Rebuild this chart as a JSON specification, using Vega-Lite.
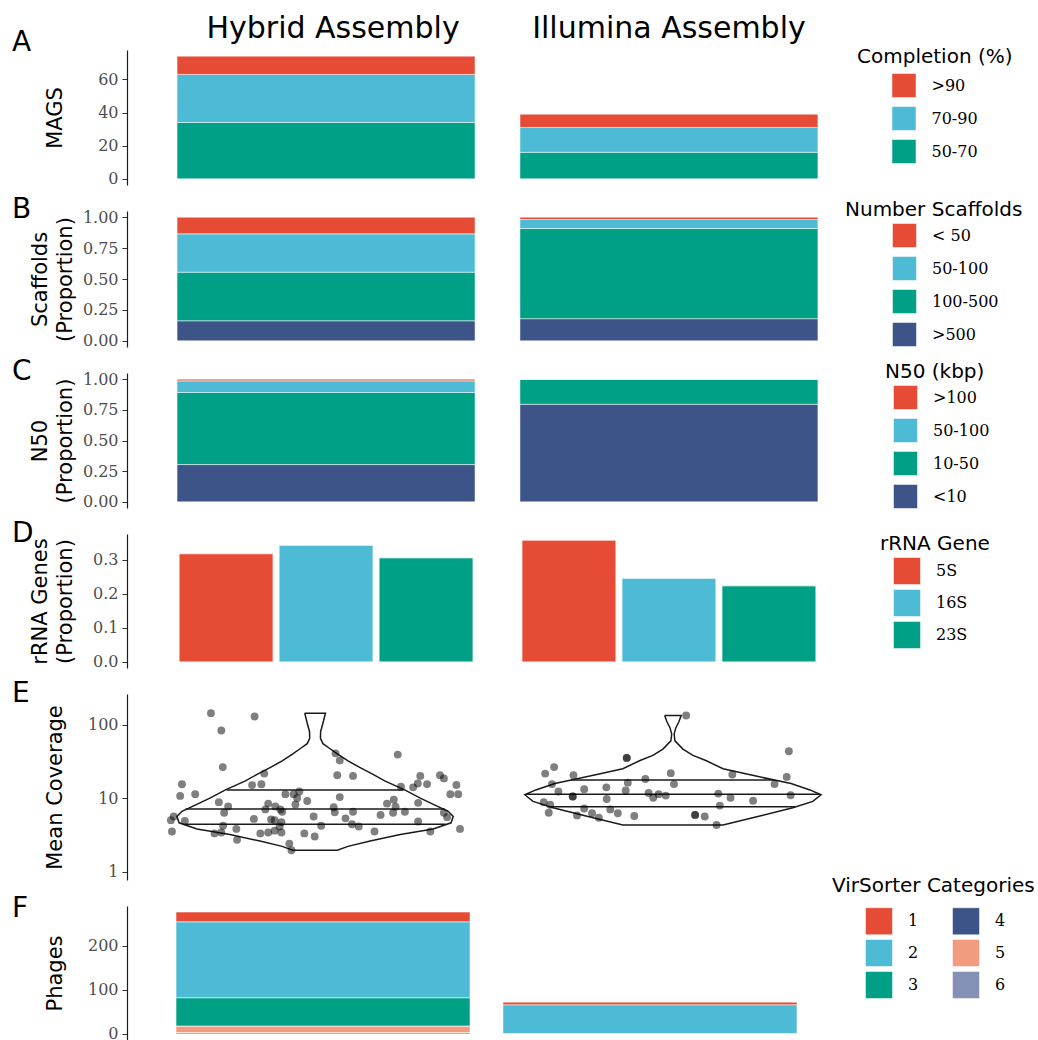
{
"$schema": "https://vega.github.io/schema/vega-lite/v6.json",
"padding": {"left": 12, "top": 13, "right": 2, "bottom": 0},
"background": "white",
"bounds": "flush",
"spacing": 26,
"datasets": {
"mags": [
{"assembly":"Hybrid Assembly","cat":"50-70","k":1,"n":34},
{"assembly":"Hybrid Assembly","cat":"70-90","k":2,"n":29},
{"assembly":"Hybrid Assembly","cat":">90","k":3,"n":11},
{"assembly":"Illumina Assembly","cat":"50-70","k":1,"n":16},
{"assembly":"Illumina Assembly","cat":"70-90","k":2,"n":15},
{"assembly":"Illumina Assembly","cat":">90","k":3,"n":8}
],
"scaf": [
{"assembly":"Hybrid Assembly","cat":">500","k":1,"p":0.162},
{"assembly":"Hybrid Assembly","cat":"100-500","k":2,"p":0.393},
{"assembly":"Hybrid Assembly","cat":"50-100","k":3,"p":0.310},
{"assembly":"Hybrid Assembly","cat":"< 50","k":4,"p":0.135},
{"assembly":"Illumina Assembly","cat":">500","k":1,"p":0.179},
{"assembly":"Illumina Assembly","cat":"100-500","k":2,"p":0.729},
{"assembly":"Illumina Assembly","cat":"50-100","k":3,"p":0.073},
{"assembly":"Illumina Assembly","cat":"< 50","k":4,"p":0.019}
],
"n50": [
{"assembly":"Hybrid Assembly","cat":"<10","k":1,"p":0.304},
{"assembly":"Hybrid Assembly","cat":"10-50","k":2,"p":0.587},
{"assembly":"Hybrid Assembly","cat":"50-100","k":3,"p":0.095},
{"assembly":"Hybrid Assembly","cat":">100","k":4,"p":0.014},
{"assembly":"Illumina Assembly","cat":"<10","k":1,"p":0.795},
{"assembly":"Illumina Assembly","cat":"10-50","k":2,"p":0.205},
{"assembly":"Illumina Assembly","cat":"50-100","k":3,"p":0},
{"assembly":"Illumina Assembly","cat":">100","k":4,"p":0}
],
"rrna": [
{"assembly":"Hybrid Assembly","gene":"5S","p":0.317},
{"assembly":"Hybrid Assembly","gene":"16S","p":0.342},
{"assembly":"Hybrid Assembly","gene":"23S","p":0.305},
{"assembly":"Illumina Assembly","gene":"5S","p":0.357},
{"assembly":"Illumina Assembly","gene":"16S","p":0.245},
{"assembly":"Illumina Assembly","gene":"23S","p":0.223}
],
"phage": [
{"assembly":"Hybrid Assembly","cat":"6","k":1,"n":3},
{"assembly":"Hybrid Assembly","cat":"5","k":2,"n":15},
{"assembly":"Hybrid Assembly","cat":"4","k":3,"n":0},
{"assembly":"Hybrid Assembly","cat":"3","k":4,"n":64},
{"assembly":"Hybrid Assembly","cat":"2","k":5,"n":172},
{"assembly":"Hybrid Assembly","cat":"1","k":6,"n":22},
{"assembly":"Illumina Assembly","cat":"6","k":1,"n":1},
{"assembly":"Illumina Assembly","cat":"5","k":2,"n":0},
{"assembly":"Illumina Assembly","cat":"4","k":3,"n":0},
{"assembly":"Illumina Assembly","cat":"3","k":4,"n":0},
{"assembly":"Illumina Assembly","cat":"2","k":5,"n":65},
{"assembly":"Illumina Assembly","cat":"1","k":6,"n":6}
],
"violin": [
{"assembly":"Hybrid Assembly","k":1,"cov":143,"off":-0.029},
{"assembly":"Hybrid Assembly","k":2,"cov":120,"off":-0.025},
{"assembly":"Hybrid Assembly","k":3,"cov":100,"off":-0.021},
{"assembly":"Hybrid Assembly","k":4,"cov":80,"off":-0.0155},
{"assembly":"Hybrid Assembly","k":5,"cov":65,"off":-0.015},
{"assembly":"Hybrid Assembly","k":6,"cov":55,"off":-0.022},
{"assembly":"Hybrid Assembly","k":7,"cov":48,"off":-0.039},
{"assembly":"Hybrid Assembly","k":8,"cov":40,"off":-0.062},
{"assembly":"Hybrid Assembly","k":9,"cov":32,"off":-0.092},
{"assembly":"Hybrid Assembly","k":10,"cov":26,"off":-0.126},
{"assembly":"Hybrid Assembly","k":11,"cov":21,"off":-0.162},
{"assembly":"Hybrid Assembly","k":12,"cov":17,"off":-0.196},
{"assembly":"Hybrid Assembly","k":13,"cov":13,"off":-0.249},
{"assembly":"Hybrid Assembly","k":14,"cov":10,"off":-0.294},
{"assembly":"Hybrid Assembly","k":15,"cov":8,"off":-0.335},
{"assembly":"Hybrid Assembly","k":16,"cov":6.6,"off":-0.372},
{"assembly":"Hybrid Assembly","k":17,"cov":5.6,"off":-0.386},
{"assembly":"Hybrid Assembly","k":18,"cov":4.6,"off":-0.38},
{"assembly":"Hybrid Assembly","k":19,"cov":3.8,"off":-0.33},
{"assembly":"Hybrid Assembly","k":20,"cov":3.2,"off":-0.238},
{"assembly":"Hybrid Assembly","k":21,"cov":2.6,"off":-0.154},
{"assembly":"Hybrid Assembly","k":22,"cov":2.2,"off":-0.092},
{"assembly":"Hybrid Assembly","k":23,"cov":1.95,"off":-0.062},
{"assembly":"Hybrid Assembly","k":24,"cov":1.95,"off":0.062},
{"assembly":"Hybrid Assembly","k":25,"cov":2.2,"off":0.092},
{"assembly":"Hybrid Assembly","k":26,"cov":2.6,"off":0.154},
{"assembly":"Hybrid Assembly","k":27,"cov":3.2,"off":0.238},
{"assembly":"Hybrid Assembly","k":28,"cov":3.8,"off":0.33},
{"assembly":"Hybrid Assembly","k":29,"cov":4.6,"off":0.38},
{"assembly":"Hybrid Assembly","k":30,"cov":5.6,"off":0.386},
{"assembly":"Hybrid Assembly","k":31,"cov":6.6,"off":0.372},
{"assembly":"Hybrid Assembly","k":32,"cov":8,"off":0.335},
{"assembly":"Hybrid Assembly","k":33,"cov":10,"off":0.294},
{"assembly":"Hybrid Assembly","k":34,"cov":13,"off":0.249},
{"assembly":"Hybrid Assembly","k":35,"cov":17,"off":0.196},
{"assembly":"Hybrid Assembly","k":36,"cov":21,"off":0.162},
{"assembly":"Hybrid Assembly","k":37,"cov":26,"off":0.126},
{"assembly":"Hybrid Assembly","k":38,"cov":32,"off":0.092},
{"assembly":"Hybrid Assembly","k":39,"cov":40,"off":0.062},
{"assembly":"Hybrid Assembly","k":40,"cov":48,"off":0.039},
{"assembly":"Hybrid Assembly","k":41,"cov":55,"off":0.022},
{"assembly":"Hybrid Assembly","k":42,"cov":65,"off":0.015},
{"assembly":"Hybrid Assembly","k":43,"cov":80,"off":0.0155},
{"assembly":"Hybrid Assembly","k":44,"cov":100,"off":0.021},
{"assembly":"Hybrid Assembly","k":45,"cov":120,"off":0.025},
{"assembly":"Hybrid Assembly","k":46,"cov":143,"off":0.029},
{"assembly":"Hybrid Assembly","k":47,"cov":143,"off":-0.029},
{"assembly":"Illumina Assembly","k":1,"cov":133,"off":-0.023},
{"assembly":"Illumina Assembly","k":2,"cov":110,"off":-0.017},
{"assembly":"Illumina Assembly","k":3,"cov":90,"off":-0.008},
{"assembly":"Illumina Assembly","k":4,"cov":74,"off":-0.0034},
{"assembly":"Illumina Assembly","k":5,"cov":60,"off":-0.0056},
{"assembly":"Illumina Assembly","k":6,"cov":46.4,"off":-0.028},
{"assembly":"Illumina Assembly","k":7,"cov":38,"off":-0.056},
{"assembly":"Illumina Assembly","k":8,"cov":32.4,"off":-0.092},
{"assembly":"Illumina Assembly","k":9,"cov":25.1,"off":-0.14},
{"assembly":"Illumina Assembly","k":10,"cov":19.9,"off":-0.232},
{"assembly":"Illumina Assembly","k":11,"cov":15.8,"off":-0.33},
{"assembly":"Illumina Assembly","k":12,"cov":12.9,"off":-0.383},
{"assembly":"Illumina Assembly","k":13,"cov":11.1,"off":-0.414},
{"assembly":"Illumina Assembly","k":14,"cov":9.0,"off":-0.391},
{"assembly":"Illumina Assembly","k":15,"cov":7.4,"off":-0.335},
{"assembly":"Illumina Assembly","k":16,"cov":5.7,"off":-0.243},
{"assembly":"Illumina Assembly","k":17,"cov":4.3,"off":-0.14},
{"assembly":"Illumina Assembly","k":18,"cov":4.3,"off":0.14},
{"assembly":"Illumina Assembly","k":19,"cov":5.7,"off":0.243},
{"assembly":"Illumina Assembly","k":20,"cov":7.4,"off":0.335},
{"assembly":"Illumina Assembly","k":21,"cov":9.0,"off":0.391},
{"assembly":"Illumina Assembly","k":22,"cov":11.1,"off":0.414},
{"assembly":"Illumina Assembly","k":23,"cov":12.9,"off":0.383},
{"assembly":"Illumina Assembly","k":24,"cov":15.8,"off":0.33},
{"assembly":"Illumina Assembly","k":25,"cov":19.9,"off":0.232},
{"assembly":"Illumina Assembly","k":26,"cov":25.1,"off":0.14},
{"assembly":"Illumina Assembly","k":27,"cov":32.4,"off":0.092},
{"assembly":"Illumina Assembly","k":28,"cov":38,"off":0.056},
{"assembly":"Illumina Assembly","k":29,"cov":46.4,"off":0.028},
{"assembly":"Illumina Assembly","k":30,"cov":60,"off":0.0056},
{"assembly":"Illumina Assembly","k":31,"cov":74,"off":0.0034},
{"assembly":"Illumina Assembly","k":32,"cov":90,"off":0.008},
{"assembly":"Illumina Assembly","k":33,"cov":110,"off":0.017},
{"assembly":"Illumina Assembly","k":34,"cov":133,"off":0.023},
{"assembly":"Illumina Assembly","k":35,"cov":133,"off":-0.023}
],
"quant": [
{"assembly":"Hybrid Assembly","q":"H75","cov":12.9,"off":-0.247},
{"assembly":"Hybrid Assembly","q":"H75","cov":12.9,"off":0.247},
{"assembly":"Hybrid Assembly","q":"H50","cov":7.1,"off":-0.362},
{"assembly":"Hybrid Assembly","q":"H50","cov":7.1,"off":0.362},
{"assembly":"Hybrid Assembly","q":"H25","cov":4.4,"off":-0.365},
{"assembly":"Hybrid Assembly","q":"H25","cov":4.4,"off":0.365},
{"assembly":"Illumina Assembly","q":"I75","cov":17.6,"off":-0.284},
{"assembly":"Illumina Assembly","q":"I75","cov":17.6,"off":0.284},
{"assembly":"Illumina Assembly","q":"I50","cov":11.3,"off":-0.41},
{"assembly":"Illumina Assembly","q":"I50","cov":11.3,"off":0.41},
{"assembly":"Illumina Assembly","q":"I25","cov":7.6,"off":-0.342},
{"assembly":"Illumina Assembly","q":"I25","cov":7.6,"off":0.342}
],
"pts": [
{"assembly":"Hybrid Assembly","cov":143,"jit":-0.291},
{"assembly":"Hybrid Assembly","cov":129,"jit":-0.169},
{"assembly":"Hybrid Assembly","cov":83,"jit":-0.262},
{"assembly":"Hybrid Assembly","cov":26.4,"jit":-0.258},
{"assembly":"Hybrid Assembly","cov":40.6,"jit":0.057},
{"assembly":"Hybrid Assembly","cov":32.4,"jit":0.069},
{"assembly":"Hybrid Assembly","cov":39,"jit":0.231},
{"assembly":"Hybrid Assembly","cov":21.5,"jit":-0.142},
{"assembly":"Hybrid Assembly","cov":20.5,"jit":0.062},
{"assembly":"Hybrid Assembly","cov":20.0,"jit":0.106},
{"assembly":"Hybrid Assembly","cov":20.0,"jit":0.294},
{"assembly":"Hybrid Assembly","cov":20.5,"jit":0.349},
{"assembly":"Hybrid Assembly","cov":18.5,"jit":0.36},
{"assembly":"Hybrid Assembly","cov":15.4,"jit":-0.372},
{"assembly":"Hybrid Assembly","cov":15.0,"jit":-0.176},
{"assembly":"Hybrid Assembly","cov":15.4,"jit":-0.150},
{"assembly":"Hybrid Assembly","cov":15.8,"jit":0.287},
{"assembly":"Hybrid Assembly","cov":15.5,"jit":0.313},
{"assembly":"Hybrid Assembly","cov":15.1,"jit":0.395},
{"assembly":"Hybrid Assembly","cov":14.3,"jit":0.240},
{"assembly":"Hybrid Assembly","cov":14.0,"jit":0.274},
{"assembly":"Hybrid Assembly","cov":11.3,"jit":-0.335},
{"assembly":"Hybrid Assembly","cov":10.7,"jit":-0.377},
{"assembly":"Hybrid Assembly","cov":11.3,"jit":-0.083},
{"assembly":"Hybrid Assembly","cov":11.3,"jit":-0.060},
{"assembly":"Hybrid Assembly","cov":12.3,"jit":-0.044},
{"assembly":"Hybrid Assembly","cov":10.0,"jit":-0.050},
{"assembly":"Hybrid Assembly","cov":10.3,"jit":0.069},
{"assembly":"Hybrid Assembly","cov":11.3,"jit":0.378},
{"assembly":"Hybrid Assembly","cov":11.3,"jit":0.400},
{"assembly":"Hybrid Assembly","cov":9.5,"jit":0.220},
{"assembly":"Hybrid Assembly","cov":9.1,"jit":-0.022},
{"assembly":"Hybrid Assembly","cov":8.8,"jit":-0.269},
{"assembly":"Hybrid Assembly","cov":8.4,"jit":-0.131},
{"assembly":"Hybrid Assembly","cov":8.2,"jit":-0.055},
{"assembly":"Hybrid Assembly","cov":8.4,"jit":0.201},
{"assembly":"Hybrid Assembly","cov":8.6,"jit":0.288},
{"assembly":"Hybrid Assembly","cov":7.7,"jit":-0.243},
{"assembly":"Hybrid Assembly","cov":7.7,"jit":-0.111},
{"assembly":"Hybrid Assembly","cov":7.6,"jit":0.225},
{"assembly":"Hybrid Assembly","cov":7.0,"jit":-0.139},
{"assembly":"Hybrid Assembly","cov":7.0,"jit":-0.097},
{"assembly":"Hybrid Assembly","cov":6.5,"jit":-0.092},
{"assembly":"Hybrid Assembly","cov":7.5,"jit":0.052},
{"assembly":"Hybrid Assembly","cov":6.3,"jit":-0.254},
{"assembly":"Hybrid Assembly","cov":6.4,"jit":0.055},
{"assembly":"Hybrid Assembly","cov":6.5,"jit":0.106},
{"assembly":"Hybrid Assembly","cov":6.3,"jit":0.218},
{"assembly":"Hybrid Assembly","cov":6.5,"jit":0.251},
{"assembly":"Hybrid Assembly","cov":6.3,"jit":0.360},
{"assembly":"Hybrid Assembly","cov":5.5,"jit":0.369},
{"assembly":"Hybrid Assembly","cov":5.6,"jit":-0.395},
{"assembly":"Hybrid Assembly","cov":5.6,"jit":-0.004},
{"assembly":"Hybrid Assembly","cov":5.3,"jit":0.085},
{"assembly":"Hybrid Assembly","cov":5.9,"jit":0.183},
{"assembly":"Hybrid Assembly","cov":5.0,"jit":-0.403},
{"assembly":"Hybrid Assembly","cov":4.9,"jit":-0.364},
{"assembly":"Hybrid Assembly","cov":5.2,"jit":-0.171},
{"assembly":"Hybrid Assembly","cov":5.1,"jit":-0.123},
{"assembly":"Hybrid Assembly","cov":5.0,"jit":-0.113},
{"assembly":"Hybrid Assembly","cov":4.7,"jit":-0.094},
{"assembly":"Hybrid Assembly","cov":4.8,"jit":0.288},
{"assembly":"Hybrid Assembly","cov":4.4,"jit":0.103},
{"assembly":"Hybrid Assembly","cov":4.2,"jit":-0.257},
{"assembly":"Hybrid Assembly","cov":4.1,"jit":-0.099},
{"assembly":"Hybrid Assembly","cov":4.2,"jit":0.017},
{"assembly":"Hybrid Assembly","cov":4.1,"jit":0.122},
{"assembly":"Hybrid Assembly","cov":3.8,"jit":-0.220},
{"assembly":"Hybrid Assembly","cov":3.8,"jit":0.405},
{"assembly":"Hybrid Assembly","cov":3.5,"jit":-0.400},
{"assembly":"Hybrid Assembly","cov":3.4,"jit":-0.262},
{"assembly":"Hybrid Assembly","cov":3.3,"jit":-0.281},
{"assembly":"Hybrid Assembly","cov":3.3,"jit":-0.153},
{"assembly":"Hybrid Assembly","cov":3.4,"jit":-0.131},
{"assembly":"Hybrid Assembly","cov":3.6,"jit":-0.113},
{"assembly":"Hybrid Assembly","cov":3.4,"jit":-0.094},
{"assembly":"Hybrid Assembly","cov":3.3,"jit":-0.030},
{"assembly":"Hybrid Assembly","cov":3.5,"jit":0.166},
{"assembly":"Hybrid Assembly","cov":3.5,"jit":0.322},
{"assembly":"Hybrid Assembly","cov":3.0,"jit":-0.001},
{"assembly":"Hybrid Assembly","cov":2.7,"jit":-0.218},
{"assembly":"Hybrid Assembly","cov":2.4,"jit":-0.072},
{"assembly":"Hybrid Assembly","cov":1.95,"jit":-0.066},
{"assembly":"Illumina Assembly","cov":133,"jit":0.037},
{"assembly":"Illumina Assembly","cov":43.3,"jit":0.324},
{"assembly":"Illumina Assembly","cov":35.2,"jit":-0.129},
{"assembly":"Illumina Assembly","cov":35.2,"jit":-0.129},
{"assembly":"Illumina Assembly","cov":21.5,"jit":-0.357},
{"assembly":"Illumina Assembly","cov":26.4,"jit":-0.332},
{"assembly":"Illumina Assembly","cov":20.5,"jit":-0.278},
{"assembly":"Illumina Assembly","cov":21.8,"jit":-0.006},
{"assembly":"Illumina Assembly","cov":20.9,"jit":0.166},
{"assembly":"Illumina Assembly","cov":19.4,"jit":0.318},
{"assembly":"Illumina Assembly","cov":15.5,"jit":-0.338},
{"assembly":"Illumina Assembly","cov":18.2,"jit":-0.077},
{"assembly":"Illumina Assembly","cov":16.2,"jit":-0.126},
{"assembly":"Illumina Assembly","cov":15.5,"jit":0.003},
{"assembly":"Illumina Assembly","cov":15.5,"jit":0.284},
{"assembly":"Illumina Assembly","cov":12.3,"jit":-0.320},
{"assembly":"Illumina Assembly","cov":13.2,"jit":-0.248},
{"assembly":"Illumina Assembly","cov":14.0,"jit":-0.186},
{"assembly":"Illumina Assembly","cov":12.7,"jit":-0.132},
{"assembly":"Illumina Assembly","cov":11.7,"jit":-0.068},
{"assembly":"Illumina Assembly","cov":11.3,"jit":-0.040},
{"assembly":"Illumina Assembly","cov":10.8,"jit":-0.020},
{"assembly":"Illumina Assembly","cov":10.1,"jit":-0.055},
{"assembly":"Illumina Assembly","cov":10.5,"jit":-0.280},
{"assembly":"Illumina Assembly","cov":10.5,"jit":-0.280},
{"assembly":"Illumina Assembly","cov":9.7,"jit":-0.185},
{"assembly":"Illumina Assembly","cov":11.5,"jit":0.127},
{"assembly":"Illumina Assembly","cov":10.1,"jit":0.161},
{"assembly":"Illumina Assembly","cov":9.2,"jit":0.224},
{"assembly":"Illumina Assembly","cov":10.9,"jit":0.329},
{"assembly":"Illumina Assembly","cov":8.8,"jit":-0.361},
{"assembly":"Illumina Assembly","cov":8.1,"jit":-0.343},
{"assembly":"Illumina Assembly","cov":6.3,"jit":-0.347},
{"assembly":"Illumina Assembly","cov":7.2,"jit":-0.248},
{"assembly":"Illumina Assembly","cov":7.0,"jit":-0.175},
{"assembly":"Illumina Assembly","cov":5.8,"jit":-0.268},
{"assembly":"Illumina Assembly","cov":6.2,"jit":-0.226},
{"assembly":"Illumina Assembly","cov":5.4,"jit":-0.207},
{"assembly":"Illumina Assembly","cov":6.2,"jit":-0.154},
{"assembly":"Illumina Assembly","cov":5.7,"jit":-0.108},
{"assembly":"Illumina Assembly","cov":7.9,"jit":0.131},
{"assembly":"Illumina Assembly","cov":5.9,"jit":0.062},
{"assembly":"Illumina Assembly","cov":5.9,"jit":0.062},
{"assembly":"Illumina Assembly","cov":5.6,"jit":0.089},
{"assembly":"Illumina Assembly","cov":4.3,"jit":0.122}
]
},
"vconcat": [
{
"width": 741, "height": 135,
"title": {"text": "A", "dy": 48},
"data": {"name": "mags"},
"mark": {"type": "bar", "stroke": "white", "strokeWidth": 0.5},
"encoding": {
"x": {"field": "assembly", "type": "nominal", "scale": {"domain": ["Hybrid Assembly","Illumina Assembly"], "paddingInner": 0.131, "paddingOuter": 0.146},
"axis": {"orient": "top", "title": null, "labelAngle": 0, "labelFont": "DejaVu Sans", "labelFontSize": 30, "labelColor": "black", "ticks": false, "tickSize": 0, "domain": false, "labelPadding": 7, "labelLimit": 0,
"labelOffset": {"condition": {"test": "datum.value == 'Hybrid Assembly'", "value": 7}, "value": 0}}},
"y": {"field": "n", "type": "quantitative", "stack": "zero", "scale": {"domain": [-3.7, 77.7], "nice": false},
"axis": {"values": [0,20,40,60], "format": "d", "title": "MAGS", "titleX": -61.6}},
"color": {"field": "cat", "type": "nominal", "scale": {"domain": [">90","70-90","50-70"], "range": ["#E64B35","#4DBBD5","#00A087"]},
"legend": {"title": "Completion (%)", "legendX": 730, "legendY": -3, "symbolOffset": 34.5, "symbolSize": 576, "rowPadding": 6, "titlePadding": 6}},
"order": {"field": "k", "type": "quantitative"}
}
},
{
"width": 741, "height": 136,
"title": {"text": "B", "dy": 28},
"data": {"name": "scaf"},
"mark": {"type": "bar", "stroke": "white", "strokeWidth": 0.5},
"encoding": {
"x": {"field": "assembly", "type": "nominal", "scale": {"domain": ["Hybrid Assembly","Illumina Assembly"], "paddingInner": 0.131, "paddingOuter": 0.146}, "axis": null},
"y": {"field": "p", "type": "quantitative", "stack": "zero", "scale": {"domain": [-0.05, 1.05], "nice": false},
"axis": {"values": [0,0.25,0.5,0.75,1], "format": ".2f", "title": ["Scaffolds","(Proportion)"], "titleX": -76.5, "titleLineHeight": 25}},
"color": {"field": "cat", "type": "nominal", "scale": {"domain": ["< 50","50-100","100-500",">500"], "range": ["#E64B35","#4DBBD5","#00A087","#3C5488"]},
"legend": {"title": "Number Scaffolds", "legendX": 718, "legendY": -11, "symbolOffset": 47, "symbolSize": 576, "rowPadding": 6, "titlePadding": 3}},
"order": {"field": "k", "type": "quantitative"}
}
},
{
"width": 741, "height": 135,
"title": {"text": "C", "dy": 28},
"data": {"name": "n50"},
"mark": {"type": "bar", "stroke": "white", "strokeWidth": 0.5},
"encoding": {
"x": {"field": "assembly", "type": "nominal", "scale": {"domain": ["Hybrid Assembly","Illumina Assembly"], "paddingInner": 0.131, "paddingOuter": 0.146}, "axis": null},
"y": {"field": "p", "type": "quantitative", "stack": "zero", "scale": {"domain": [-0.05, 1.05], "nice": false},
"axis": {"values": [0,0.25,0.5,0.75,1], "format": ".2f", "title": ["N50","(Proportion)"], "titleX": -76.5, "titleLineHeight": 25}},
"color": {"field": "cat", "type": "nominal", "scale": {"domain": [">100","50-100","10-50","<10"], "range": ["#E64B35","#4DBBD5","#00A087","#3C5488"]},
"legend": {"title": "N50 (kbp)", "legendX": 758, "legendY": -11, "symbolOffset": 8, "symbolSize": 576, "rowPadding": 6, "titlePadding": 3}},
"order": {"field": "k", "type": "quantitative"}
}
},
{
"width": 741, "height": 134,
"title": {"text": "D", "dy": 18},
"data": {"name": "rrna"},
"mark": {"type": "bar", "stroke": "white", "strokeWidth": 0.8},
"encoding": {
"x": {"field": "assembly", "type": "nominal", "scale": {"domain": ["Hybrid Assembly","Illumina Assembly"], "paddingInner": 0.131, "paddingOuter": 0.146}, "axis": null},
"xOffset": {"field": "gene", "type": "nominal", "scale": {"domain": ["5S","16S","23S"], "paddingInner": 0.06, "paddingOuter": 0.02}},
"y": {"field": "p", "type": "quantitative", "scale": {"domain": [-0.0179, 0.375], "nice": false},
"axis": {"values": [0,0.1,0.2,0.3], "format": ".1f", "title": ["rRNA Genes","(Proportion)"], "titleX": -76.5, "titleLineHeight": 25}},
"color": {"field": "gene", "type": "nominal", "scale": {"domain": ["5S","16S","23S"], "range": ["#E64B35","#4DBBD5","#00A087"]},
"legend": {"title": "rRNA Gene", "legendX": 753, "legendY": 0, "symbolOffset": 13, "symbolSize": 729, "rowPadding": 2, "titlePadding": 3}}
}
},
{
"width": 734, "height": 186,
"title": {"text": "E", "dy": 18},
"layer": [
{
"data": {"name": "violin"},
"mark": {"type": "line", "color": "#1a1a1a", "strokeWidth": 1.5},
"encoding": {
"x": {"field": "assembly", "type": "nominal", "scale": {"type": "band", "domain": ["Hybrid Assembly","Illumina Assembly"], "paddingInner": 0, "paddingOuter": 0.0256}, "axis": null},
"xOffset": {"field": "off", "type": "quantitative", "scale": {"domain": [-0.5, 0.5]}},
"y": {"field": "cov", "type": "quantitative", "scale": {"type": "log", "domain": [0.767, 260.6], "nice": false},
"axis": {"values": [1,10,100], "format": "d", "title": "Mean Coverage", "titleX": -61.6}},
"detail": {"field": "assembly"},
"order": {"field": "k", "type": "quantitative"}
}
},
{
"data": {"name": "quant"},
"mark": {"type": "line", "color": "#1a1a1a", "strokeWidth": 1.5},
"encoding": {
"x": {"field": "assembly", "type": "nominal"},
"xOffset": {"field": "off", "type": "quantitative"},
"y": {"field": "cov", "type": "quantitative"},
"detail": {"field": "q"}
}
},
{
"data": {"name": "pts"},
"mark": {"type": "circle", "size": 62, "color": "black", "opacity": 0.5},
"encoding": {
"x": {"field": "assembly", "type": "nominal"},
"xOffset": {"field": "jit", "type": "quantitative"},
"y": {"field": "cov", "type": "quantitative"}
}
}
]
},
{
"width": 719, "height": 134,
"title": {"text": "F", "dy": 51},
"data": {"name": "phage"},
"mark": {"type": "bar", "stroke": "white", "strokeWidth": 0.5},
"encoding": {
"x": {"field": "assembly", "type": "nominal", "scale": {"domain": ["Hybrid Assembly","Illumina Assembly"], "paddingInner": 0.101, "paddingOuter": 0.15}, "axis": null},
"y": {"field": "n", "type": "quantitative", "stack": "zero", "scale": {"domain": [-13.8, 289.8], "nice": false},
"axis": {"values": [0,100,200], "format": "d", "title": "Phages", "titleX": -61.6}},
"color": {"field": "cat", "type": "nominal", "scale": {"domain": ["1","2","3","4","5","6"], "range": ["#E64B35","#4DBBD5","#00A087","#3C5488","#F39B7F","#8491B4"]},
"legend": {"title": "VirSorter Categories", "columns": 2, "direction": "vertical", "columnPadding": -16, "legendX": 705, "legendY": -30, "symbolOffset": 33, "symbolSize": 729, "rowPadding": 2, "titlePadding": 11}},
"order": {"field": "k", "type": "quantitative"}
}
}
],
"resolve": {"scale": {"x": "independent", "y": "independent", "color": "independent", "xOffset": "independent"}, "legend": {"color": "independent"}},
"config": {
"view": {"stroke": null},
"font": "DejaVu Sans",
"axis": {"grid": false, "labelFont": "DejaVu Serif", "labelFontSize": 16, "labelColor": "#4d4d4d", "titleFont": "DejaVu Sans", "titleFontSize": 21, "titleFontWeight": "normal", "titleColor": "black", "domainColor": "#1a1a1a", "domainWidth": 1.2, "tickColor": "#333333", "tickSize": 5, "tickWidth": 1, "labelPadding": 4},
"legend": {"orient": "none", "padding": 0, "titleFont": "DejaVu Sans", "titleFontSize": 20, "titleFontWeight": "normal", "titleColor": "black", "labelFont": "DejaVu Serif", "labelFontSize": 16, "labelColor": "black", "symbolType": "square", "symbolStrokeColor": "white", "symbolStrokeWidth": 0.5, "labelOffset": 15, "titleAnchor": "start", "titleLimit": 0, "labelLimit": 0},
"title": {"font": "DejaVu Sans", "fontSize": 28, "fontWeight": "normal", "color": "black", "anchor": "start", "frame": "group", "dx": -115, "offset": 0, "baseline": "alphabetic"}
}
}
